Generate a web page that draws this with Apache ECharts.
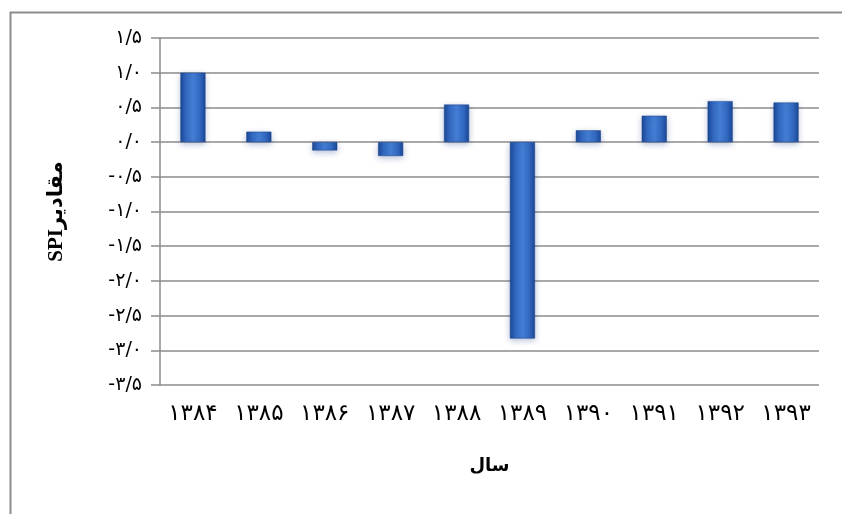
<!DOCTYPE html>
<html>
<head>
<meta charset="utf-8">
<script src="https://cdn.jsdelivr.net/npm/echarts@6/dist/echarts.min.js"></script>
<style>
  html, body { margin: 0; padding: 0; background: #fff; }
  #chart { width: 842px; height: 514px; }
</style>
</head>
<body>
<div id="chart"></div>
<script>
// SPI values per year (Persian calendar)
const years = ['۱۳۸۴', '۱۳۸۵', '۱۳۸۶', '۱۳۸۷', '۱۳۸۸', '۱۳۸۹', '۱۳۹۰', '۱۳۹۱', '۱۳۹۲', '۱۳۹۳'];
const spiValues = [1.0, 0.15, -0.12, -0.2, 0.54, -2.83, 0.17, 0.38, 0.59, 0.57];

// value-axis ticks and their Persian labels
const yTickValues = [-3.5, -3.0, -2.5, -2.0, -1.5, -1.0, -0.5, 0.0, 0.5, 1.0, 1.5];
const yTickLabels = ['-۳/۵', '-۳/۰', '-۲/۵', '-۲/۰', '-۱/۵', '-۱/۰', '-۰/۵', '۰/۰', '۰/۵', '۱/۰', '۱/۵'];

const yAxisTitle = '\u202Bمقادیر\u202ASPI\u202C\u202C';
const xAxisTitle = 'سال';

const labelFor = {};
yTickValues.forEach((v, i) => { labelFor[v.toFixed(1)] = yTickLabels[i]; });

const barFill = new echarts.graphic.LinearGradient(0, 0, 1, 0, [
  { offset: 0, color: '#1a4794' },
  { offset: 0.22, color: '#3268c0' },
  { offset: 0.5, color: '#447ed4' },
  { offset: 0.78, color: '#3268c0' },
  { offset: 1, color: '#1a4794' }
]);

const chart = echarts.init(document.getElementById('chart'), null, { renderer: 'canvas' });
chart.setOption({
  animation: false,
  backgroundColor: '#ffffff',
  graphic: [{
    type: 'rect',
    left: 8, top: 10,
    shape: { width: 900, height: 600 },
    style: { fill: 'none', stroke: '#8c8c8c', lineWidth: 2 },
    silent: true,
    z: -1
  }],
  grid: { left: 160, right: 23, top: 38, bottom: 129, containLabel: false },
  xAxis: {
    type: 'category',
    data: years,
    position: 'bottom',
    axisLine: { show: false },
    axisTick: { show: false },
    axisLabel: {
      color: '#000',
      fontFamily: 'DejaVu Sans',
      fontSize: 23,
      margin: 18
    },
    name: xAxisTitle,
    nameLocation: 'middle',
    nameGap: 72,
    nameTextStyle: {
      color: '#000',
      fontFamily: 'DejaVu Sans',
      fontWeight: 'bold',
      fontSize: 18
    }
  },
  yAxis: {
    type: 'value',
    min: -3.5,
    max: 1.5,
    interval: 0.5,
    axisLine: { show: true, lineStyle: { color: '#8c8c8c', width: 1.5 } },
    axisTick: { show: true, length: 9, lineStyle: { color: '#8c8c8c', width: 1.5 } },
    splitLine: { show: true, lineStyle: { color: '#8c8c8c', width: 1.5 } },
    axisLabel: {
      color: '#000',
      fontFamily: 'DejaVu Sans',
      fontSize: 19,
      margin: 18,
      formatter: v => labelFor[Number(v).toFixed(1)] || ''
    },
    name: yAxisTitle,
    nameLocation: 'middle',
    nameRotate: 90,
    nameGap: 93,
    nameTextStyle: {
      color: '#000',
      fontFamily: 'Liberation Serif, DejaVu Sans',
      fontWeight: 'bold',
      fontSize: 21
    }
  },
  series: [{
    type: 'bar',
    data: spiValues,
    barWidth: 25,
    itemStyle: {
      color: barFill,
      borderColor: '#173f86',
      borderWidth: 0.5,
      shadowColor: 'rgba(40,70,140,0.35)',
      shadowBlur: 6,
      shadowOffsetY: 2
    }
  }]
});
</script>
</body>
</html>
